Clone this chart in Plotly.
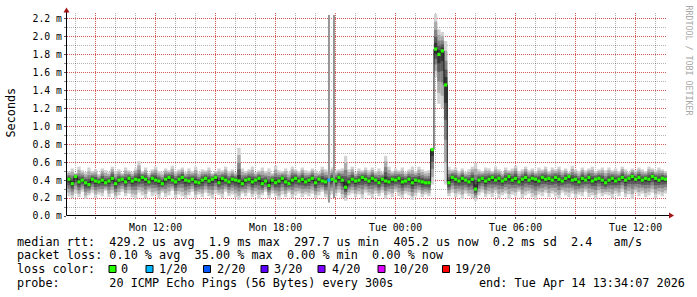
import plotly.graph_objects as go
from datetime import datetime, timedelta

# ---------------- data ----------------
t_start = datetime(2026, 4, 13, 7, 35)
step_minutes = 10

median_ms = [
    0.41, 0.36, 0.44, 0.38, 0.40, 0.37, 0.35, 0.41, 0.39, 0.38, 0.40, 0.37, 0.39, 0.42, 0.36, 0.40, 0.41, 0.38,
    0.42, 0.39, 0.41, 0.40, 0.43, 0.41, 0.38, 0.42, 0.40, 0.39, 0.36, 0.41, 0.43, 0.40, 0.38, 0.41, 0.43, 0.40,
    0.39, 0.41, 0.38, 0.37, 0.40, 0.42, 0.39, 0.41, 0.43, 0.37, 0.42, 0.40, 0.38, 0.41, 0.40, 0.39, 0.36, 0.40,
    0.41, 0.38, 0.40, 0.42, 0.36, 0.39, 0.34, 0.40, 0.37, 0.39, 0.42, 0.38, 0.36, 0.40, 0.42, 0.39, 0.41, 0.38,
    0.40, 0.42, 0.37, 0.41, 0.39, 0.38, 0.40, 0.41, 0.39, 0.43, 0.40, 0.32, 0.38, 0.41, 0.39, 0.40, 0.43, 0.41,
    0.39, 0.42, 0.40, 0.37, 0.41, 0.39, 0.38, 0.41, 0.40, 0.42, 0.38, 0.39, 0.41, 0.37, 0.40, 0.39, 0.38, 0.37,
    0.37, 0.74, 1.86, 1.80, 1.84, 1.46, 0.37, 0.43, 0.41, 0.39, 0.42, 0.40, 0.38, 0.41, 0.30, 0.40, 0.42, 0.39,
    0.41, 0.43, 0.40, 0.42, 0.39, 0.41, 0.44, 0.40, 0.42, 0.38, 0.41, 0.43, 0.40, 0.42, 0.41, 0.39, 0.43, 0.41,
    0.42, 0.40, 0.43, 0.41, 0.39, 0.42, 0.44, 0.40, 0.41, 0.38, 0.42, 0.40, 0.43, 0.39, 0.41, 0.42, 0.40, 0.37,
    0.40, 0.42, 0.39, 0.41, 0.43, 0.40, 0.42, 0.44, 0.41, 0.43, 0.40, 0.42, 0.41, 0.44, 0.42, 0.40, 0.42, 0.41,
]

low_ms = [
    0.22, 0.20, 0.25, 0.21, 0.27, 0.19, 0.23, 0.26, 0.20, 0.24, 0.22, 0.28, 0.21, 0.25, 0.19, 0.23, 0.27, 0.22,
    0.25, 0.21, 0.19, 0.26, 0.23, 0.20, 0.27, 0.22, 0.24, 0.20, 0.26, 0.21, 0.23, 0.28, 0.20, 0.24, 0.22, 0.19,
    0.23, 0.27, 0.20, 0.24, 0.21, 0.26, 0.22, 0.19, 0.25, 0.23, 0.20, 0.27, 0.22, 0.24, 0.21, 0.18, 0.25, 0.22,
    0.26, 0.21, 0.24, 0.19, 0.23, 0.27, 0.20, 0.25, 0.22, 0.18, 0.24, 0.21, 0.26, 0.20, 0.23, 0.25, 0.21, 0.24,
    0.22, 0.25, 0.20, 0.23, 0.27, 0.21, 0.19, 0.24, 0.22, 0.26, 0.20, 0.17, 0.23, 0.25, 0.21, 0.24, 0.19, 0.26,
    0.23, 0.20, 0.25, 0.22, 0.26, 0.19, 0.24, 0.21, 0.27, 0.22, 0.20, 0.25, 0.23, 0.18, 0.22, 0.26, 0.21, 0.24,
    0.22, 0.35, 1.55, 1.25, 1.20, 0.35, 0.22, 0.26, 0.21, 0.24, 0.19, 0.25, 0.22, 0.20, 0.17, 0.23, 0.26, 0.21,
    0.24, 0.21, 0.26, 0.20, 0.23, 0.25, 0.19, 0.24, 0.22, 0.27, 0.20, 0.23, 0.25, 0.21, 0.18, 0.24, 0.22, 0.26,
    0.21, 0.25, 0.22, 0.19, 0.26, 0.23, 0.21, 0.25, 0.20, 0.24, 0.22, 0.27, 0.21, 0.23, 0.19, 0.25, 0.22, 0.24,
    0.23, 0.20, 0.25, 0.22, 0.27, 0.21, 0.24, 0.19, 0.26, 0.22, 0.25, 0.21, 0.23, 0.26, 0.20, 0.24, 0.22, 0.25,
]

high_ms = [
    0.50, 0.53, 0.48, 0.55, 0.51, 0.49, 0.54, 0.50, 0.52, 0.47, 0.53, 0.51, 0.49, 0.55, 0.50, 0.52, 0.48, 0.54,
    0.51, 0.49, 0.53, 0.61, 0.50, 0.54, 0.48, 0.52, 0.55, 0.50, 0.49, 0.53, 0.51, 0.56, 0.50, 0.52, 0.54, 0.49,
    0.53, 0.50, 0.55, 0.49, 0.52, 0.51, 0.54, 0.48, 0.50, 0.53, 0.51, 0.55, 0.50, 0.52, 0.49, 0.76, 0.53, 0.50,
    0.52, 0.55, 0.49, 0.51, 0.54, 0.50, 0.53, 0.48, 0.56, 0.51, 0.50, 0.53, 0.49, 0.55, 0.52, 0.50, 0.54, 0.51,
    0.50, 0.53, 0.51, 0.49, 0.55, 0.52, 0.50, 0.54, 0.51, 0.52, 0.53, 0.67, 0.52, 0.55, 0.49, 0.53, 0.51, 0.54,
    0.51, 0.54, 0.50, 0.53, 0.49, 0.67, 0.55, 0.50, 0.53, 0.51, 0.54, 0.49, 0.52, 0.55, 0.50, 0.55, 0.52, 0.50,
    0.51, 0.76, 2.25, 2.08, 2.05, 1.95, 0.55, 0.52, 0.54, 0.50, 0.53, 0.49, 0.52, 0.55, 0.59, 0.52, 0.50, 0.54,
    0.53, 0.50, 0.55, 0.52, 0.49, 0.54, 0.51, 0.53, 0.56, 0.50, 0.52, 0.55, 0.51, 0.53, 0.50, 0.54, 0.52, 0.55,
    0.50, 0.54, 0.52, 0.55, 0.51, 0.53, 0.49, 0.56, 0.52, 0.50, 0.54, 0.51, 0.53, 0.55, 0.50, 0.52, 0.54, 0.51,
    0.54, 0.51, 0.53, 0.50, 0.55, 0.52, 0.49, 0.53, 0.51, 0.54, 0.52, 0.50, 0.55, 0.53, 0.51, 0.54, 0.52, 0.50,
]

loss_step_index = [78]
loss_count = [1]

outlier_times = ["2026-04-13 20:40", "2026-04-13 20:55"]
outlier_low = [0.15, 0.20]
outlier_high = [2.24, 2.24]

x_tick_times = ["2026-04-13 09:00", "2026-04-13 12:00", "2026-04-13 15:00", "2026-04-13 18:00",
                "2026-04-13 21:00", "2026-04-14 00:00", "2026-04-14 03:00", "2026-04-14 06:00",
                "2026-04-14 09:00", "2026-04-14 12:00"]
x_tick_text = ["", "Mon 12:00", "", "Mon 18:00", "", "Tue 00:00", "", "Tue 06:00", "", "Tue 12:00"]
y_tick_vals = [0.0, 0.2, 0.4, 0.6, 0.8, 1.0, 1.2, 1.4, 1.6, 1.8, 2.0, 2.2]
y_tick_text = ["0.0 m", "0.2 m", "0.4 m", "0.6 m", "0.8 m", "1.0 m", "1.2 m", "1.4 m", "1.6 m",
               "1.8 m", "2.0 m", "2.2 m"]

loss_labels = ["0", "1/20", "2/20", "3/20", "4/20", "10/20", "19/20"]
loss_values = [0, 1, 2, 3, 4, 10, 19]
loss_colors = ["#26ff00", "#00b8ff", "#0059ff", "#5e00ff", "#7e00ff", "#dd00ff", "#ff0000"]

legend_line1 = "median rtt:  429.2 us avg  1.9 ms max  297.7 us min  405.2 us now  0.2 ms sd  2.4   am/s"
legend_line2 = "packet loss: 0.10 % avg  35.00 % max  0.00 % min  0.00 % now"
legend_line3 = "loss color:"
legend_line4 = "probe:       20 ICMP Echo Pings (56 Bytes) every 300s"
legend_end = "end: Tue Apr 14 13:34:07 2026"

# ---------------- build ----------------
n = len(median_ms)
assert len(low_ms) == n and len(high_ms) == n
step = timedelta(minutes=step_minutes)
step_ms = step_minutes * 60 * 1000
mid_t = [t_start + step * (i + 0.5) for i in range(n)]
edge_t = [t_start + step * i for i in range(n + 1)]

fig = go.Figure()

# smoke bands (outer -> inner)
fracs = [1.0, 0.78, 0.55, 0.35, 0.18]
band_cols = ["#d2d2d2", "#aaaaaa", "#828282", "#5a5a5a", "#353535"]
for f, c in zip(fracs, band_cols):
    lo = [m - (m - l) * f for m, l in zip(median_ms, low_ms)]
    hi = [m + (h - m) * f for m, h in zip(median_ms, high_ms)]
    fig.add_trace(go.Bar(x=mid_t, y=[h - l for h, l in zip(hi, lo)], base=lo, width=step_ms, opacity=1,
                         marker=dict(color=c, opacity=1, line=dict(width=0)), hoverinfo="skip"))

# outlier columns
fig.add_trace(go.Bar(x=outlier_times, y=[h - l for h, l in zip(outlier_high, outlier_low)], base=outlier_low,
                     width=6 * 60 * 1000, opacity=1,
                     marker=dict(color="#959595", opacity=1, line=dict(width=0)), hoverinfo="skip"))

# median line
fig.add_trace(go.Scatter(x=edge_t, y=median_ms + [median_ms[-1]], mode="lines",
                         line=dict(color="#1a1a1a", width=1, shape="hv"), hoverinfo="skip"))

# loss-coloured median marks (drawn on top of the line)
color_by_loss = dict(zip(loss_values, loss_colors))
step_loss = [0] * n
for i, c in zip(loss_step_index, loss_count):
    step_loss[i] = c
fig.add_trace(go.Scatter(x=mid_t, y=median_ms, mode="markers",
                         marker=dict(symbol="square", size=3.2, color=[color_by_loss[v] for v in step_loss],
                                     line=dict(width=0)),
                         hoverinfo="skip"))

# ---------------- layout ----------------
W, H = 697, 297
L, R, T, B = 67, 667, 13, 216


def px(x):
    return (x - L) / (R - L)


def py(y):
    return (B - y) / (B - T)


mono = "DejaVu Sans Mono"
grid_red = "rgba(255,0,0,0.5)"
grid_gray = "rgba(0,0,0,0.3)"

fig.update_layout(
    width=W, height=H,
    margin=dict(l=L, r=W - R, t=T, b=H - B, pad=0),
    paper_bgcolor="white", plot_bgcolor="white",
    barmode="overlay", showlegend=False,
    xaxis=dict(
        type="date", range=["2026-04-13 07:34:07", "2026-04-14 13:34:07"],
        tickmode="array", tickvals=x_tick_times, ticktext=x_tick_text,
        showgrid=True, gridcolor=grid_red, griddash="1px,1px", gridwidth=1,
        ticks="outside", ticklen=2, tickcolor="#555", tickwidth=1,
        minor=dict(dtick=3600000, showgrid=True, gridcolor=grid_gray, griddash="1px,1px",
                   ticks="outside", ticklen=2, tickcolor="#888"),
        showline=False, zeroline=False, fixedrange=True,
        tickfont=dict(family=mono, size=9.8, color="#000"),
    ),
    yaxis=dict(
        range=[0, 2.262], tickmode="array", tickvals=y_tick_vals, ticktext=y_tick_text,
        showgrid=True, gridcolor=grid_red, griddash="1px,1px", gridwidth=1,
        ticks="outside", ticklen=2, tickcolor="#555", tickwidth=1,
        minor=dict(dtick=0.1, showgrid=True, gridcolor=grid_gray, griddash="1px,1px",
                   ticks="outside", ticklen=2, tickcolor="#888"),
        showline=False, zeroline=False, fixedrange=True,
        tickfont=dict(family=mono, size=9.8, color="#000"),
    ),
)

shapes = []
# axes with arrows
shapes.append(dict(type="line", xref="paper", yref="paper", x0=px(66.5), x1=px(669), y0=py(215.5), y1=py(215.5),
                   line=dict(color="#000", width=1)))
shapes.append(dict(type="line", xref="paper", yref="paper", x0=px(66.5), x1=px(66.5), y0=py(215.5), y1=py(11),
                   line=dict(color="#000", width=1)))
arrow_col = "#a31515"
shapes.append(dict(type="path", xref="paper", yref="paper",
                   path=f"M {px(66.5)},{py(7.5)} L {px(63.5)},{py(12.5)} L {px(69.5)},{py(12.5)} Z",
                   fillcolor=arrow_col, line=dict(width=0)))
shapes.append(dict(type="path", xref="paper", yref="paper",
                   path=f"M {px(674)},{py(215.5)} L {px(669)},{py(212.5)} L {px(669)},{py(218.5)} Z",
                   fillcolor=arrow_col, line=dict(width=0)))

# loss colour boxes
box_left = [109, 146, 203.5, 261, 318, 378, 442.5]
label_left = [120, 157.5, 215.5, 273, 330.5, 391.5, 454]
for bx, col in zip(box_left, loss_colors):
    shapes.append(dict(type="rect", xref="paper", yref="paper", x0=px(bx), x1=px(bx + 7), y0=py(265.5), y1=py(272.5),
                       fillcolor=col, line=dict(color="#000", width=1)))
fig.update_layout(shapes=shapes)

ann = []
nb = lambda s: s.replace(" ", "\u00a0")
leg_font = dict(family=mono, size=11.8, color="#000")
for txt, yy in [(legend_line1, 241.5), (legend_line2, 255.3), (legend_line3, 269), (legend_line4, 283)]:
    ann.append(dict(text=nb(txt), x=px(16), y=py(yy), xref="paper", yref="paper", xanchor="left", yanchor="middle",
                    showarrow=False, font=leg_font, borderpad=0))
ann.append(dict(text=nb(legend_end), x=px(478), y=py(283), xref="paper", yref="paper", xanchor="left",
                yanchor="middle", showarrow=False, font=leg_font, borderpad=0))
for lx, lab in zip(label_left, loss_labels):
    ann.append(dict(text=lab, x=px(lx), y=py(269), xref="paper", yref="paper", xanchor="left", yanchor="middle",
                    showarrow=False, font=leg_font, borderpad=0))
ann.append(dict(text="Seconds", x=px(10.5), y=py(113), xref="paper", yref="paper", xanchor="center",
                yanchor="middle", textangle=-90, showarrow=False, font=leg_font, borderpad=0))
ann.append(dict(text=nb("RRDTOOL / TOBI OETIKER"), x=px(688.5), y=py(60), xref="paper", yref="paper",
                xanchor="center", yanchor="middle", textangle=90, showarrow=False,
                font=dict(family=mono, size=8.3, color="#a8a8a8"), borderpad=0))
fig.update_layout(annotations=ann)

fig.write_html("out.html")
